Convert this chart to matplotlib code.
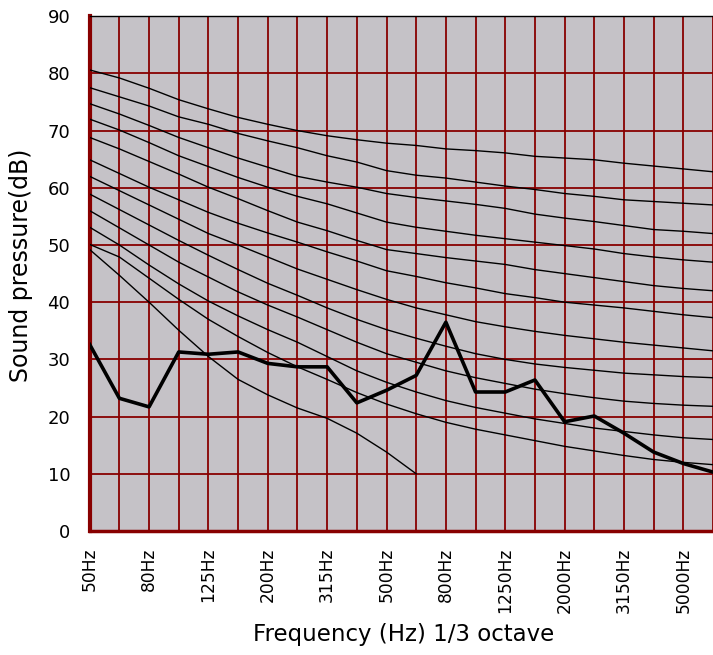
import numpy as np
import matplotlib.pyplot as plt

plt.rcParams['font.family'] = ['DejaVu Sans', 'Noto Sans CJK JP']

# 1/3 octave band centres (Hz)
bands = [50, 63, 80, 100, 125, 160, 200, 250, 315, 400, 500, 630,
         800, 1000, 1250, 1600, 2000, 2500, 3150, 4000, 5000, 6300]

# reference curves (dB)
curve_a = [80.6, 79.2, 77.4, 75.4, 73.8, 72.3, 71.1, 70.0, 69.1, 68.4, 67.8,
           67.4, 66.8, 66.5, 66.1, 65.5, 65.2, 64.9, 64.3, 63.8, 63.3, 62.8]
curve_b = [77.5, 75.9, 74.3, 72.4, 71.1, 69.5, 68.2, 67.0, 65.6, 64.5, 63.0,
           62.2, 61.7, 61.0, 60.3, 59.7, 59.0, 58.5, 57.9, 57.6, 57.3, 57.0]
curve_c = [74.7, 72.9, 70.9, 68.8, 67.0, 65.2, 63.6, 62.0, 61.0, 60.1, 59.0,
           58.3, 57.7, 57.1, 56.4, 55.4, 54.7, 54.1, 53.4, 52.7, 52.4, 52.0]
curve_d = [72.0, 70.1, 67.9, 65.6, 63.7, 61.8, 60.1, 58.5, 57.2, 55.6, 54.0,
           53.1, 52.4, 51.7, 51.1, 50.5, 49.9, 49.3, 48.5, 47.9, 47.4, 47.0]
curve_e = [68.8, 66.8, 64.6, 62.4, 60.1, 58.1, 56.0, 54.0, 52.5, 50.8, 49.2,
           48.5, 47.8, 47.2, 46.6, 45.7, 45.0, 44.3, 43.6, 42.9, 42.4, 42.0]
curve_f = [64.9, 62.5, 60.1, 57.9, 55.7, 53.8, 52.1, 50.5, 48.8, 47.2, 45.5,
           44.5, 43.4, 42.5, 41.5, 40.8, 40.0, 39.5, 39.0, 38.4, 37.8, 37.3]
curve_g = [62.0, 59.5, 57.0, 54.5, 52.0, 50.0, 47.9, 45.8, 44.0, 42.2, 40.5,
           39.0, 37.8, 36.6, 35.7, 34.9, 34.2, 33.6, 33.0, 32.5, 32.0, 31.5]
curve_h = [58.9, 56.2, 53.5, 50.8, 48.2, 45.7, 43.3, 41.2, 39.0, 37.0, 35.2,
           33.7, 32.3, 31.0, 30.0, 29.2, 28.6, 28.1, 27.6, 27.3, 27.0, 26.8]
curve_i = [56.0, 53.0, 50.0, 47.0, 44.4, 41.8, 39.5, 37.4, 35.2, 33.0, 31.0,
           29.5, 28.0, 26.8, 25.8, 24.8, 24.0, 23.3, 22.7, 22.3, 22.0, 21.8]
curve_j = [53.1, 50.0, 46.5, 43.2, 40.2, 37.6, 35.2, 33.0, 30.5, 28.0, 26.0,
           24.3, 22.8, 21.6, 20.6, 19.6, 18.8, 18.0, 17.4, 16.8, 16.3, 16.0]
curve_k = [50.1, 47.9, 44.2, 40.5, 37.0, 34.0, 31.2, 28.7, 26.5, 24.2, 22.2,
           20.5, 19.0, 17.8, 16.8, 15.8, 14.8, 14.0, 13.2, 12.5, 12.0, 11.6]
curve_l = [49.2, 44.7, 40.0, 35.1, 30.5, 26.5, 23.8, 21.5, 19.7, 17.1, 13.8, 10.0]

# measured sound pressure (dB)
measured = [32.6, 23.2, 21.7, 31.3, 30.9, 31.3, 29.3, 28.7, 28.7, 22.4, 24.6,
            27.2, 36.5, 24.3, 24.3, 26.4, 19.1, 20.1, 17.1, 13.8, 11.8, 10.3]

curves = [curve_a, curve_b, curve_c, curve_d, curve_e, curve_f,
          curve_g, curve_h, curve_i, curve_j, curve_k, curve_l]

grid_red = '#880000'

fig = plt.figure(figsize=(7.13, 6.55), dpi=100)
ax = fig.add_axes([0.1258, 0.1893, 0.8742, 0.786])
ax.set_facecolor('#C5C2C7')

x = np.arange(len(bands))
for c in curves:
    ax.plot(x[:len(c)], c, color='black', linewidth=1.0, zorder=3)
ax.plot(x, measured, color='black', linewidth=2.6, zorder=4)

ax.set_xlim(0, (713 - 89.7) / 30.0)
ax.set_ylim(0, 90)

ax.set_xticks(x)
ax.set_xticklabels([f'{b}Hz' if i % 2 == 0 else '' for i, b in enumerate(bands)],
                   rotation=90, fontsize=12.3)
ax.set_yticks(np.arange(0, 91, 10))
ax.tick_params(axis='y', length=0, pad=14, labelsize=13)
ax.tick_params(axis='x', length=0, pad=12)

ax.grid(True, color=grid_red, linewidth=1.3, zorder=1)
ax.set_axisbelow(True)

ax.spines['right'].set_visible(False)
ax.spines['top'].set_color('black')
ax.spines['top'].set_linewidth(1.0)
ax.spines['left'].set_color('#880000')
ax.spines['left'].set_linewidth(3.0)
ax.spines['bottom'].set_color('#880000')
ax.spines['bottom'].set_linewidth(2.5)

ax.set_ylabel('Sound pressure(dB)', fontsize=17)
ax.yaxis.set_label_coords(-0.091, 0.5165)
ax.set_xlabel('Frequency (Hz) 1/3 octave', fontsize=16.5)
ax.xaxis.set_label_coords(0.503, -0.178)

plt.savefig('out.png', dpi=100)
plt.close()
